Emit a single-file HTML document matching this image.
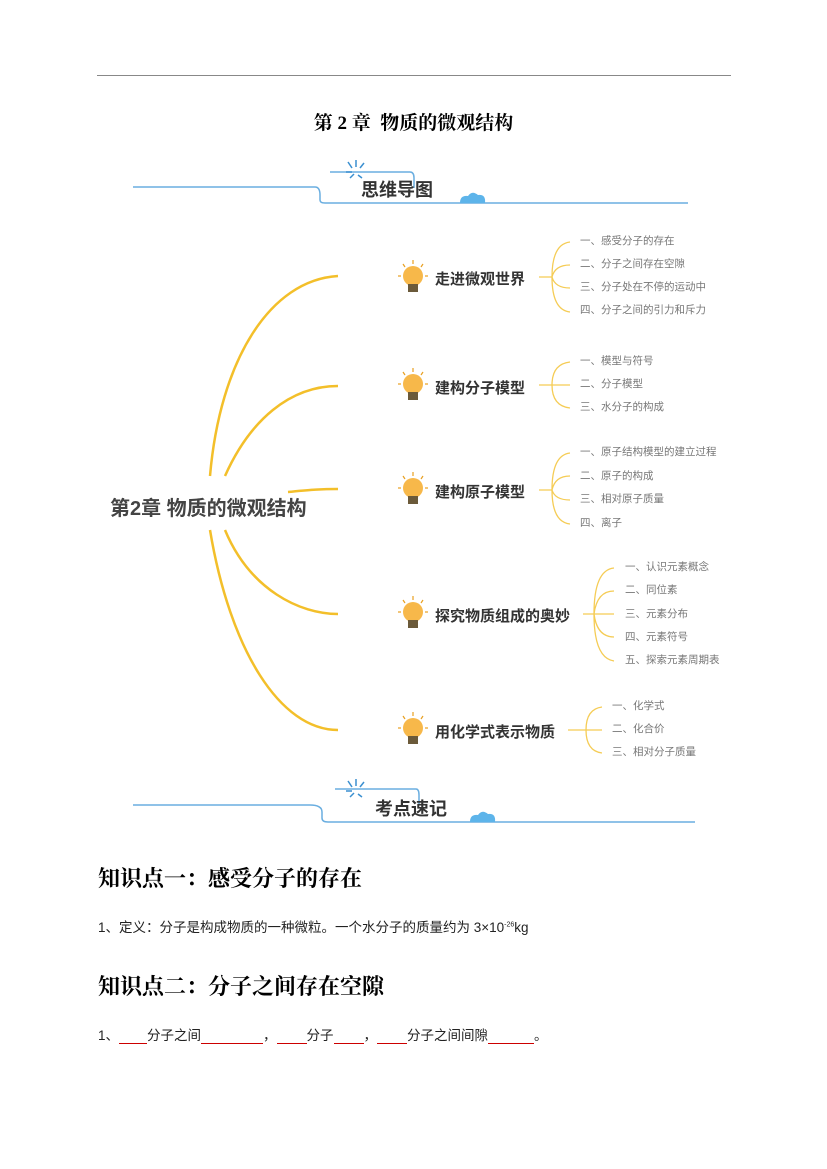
<!DOCTYPE html>
<html><head><meta charset="utf-8"><style>
body{margin:0;background:#fff;}
.p{position:relative;width:827px;height:1169px;overflow:hidden;font-family:"Liberation Sans","Noto Sans CJK SC",sans-serif;}
.a{position:absolute;white-space:nowrap;}
.h{font-family:"Liberation Serif","Noto Serif CJK SC",serif;font-weight:bold;font-size:22px;color:#000;}
.t{font-size:13.5px;color:#222;}
u{text-decoration:none;border-bottom:1px solid #c00;display:inline-block;}
.s{font-size:10.5px;color:#777;}
</style></head><body><div class="p">
<div class="a" style="left:97px;top:75px;width:634px;height:1px;background:#888"></div>
<div class="a" style="left:0;width:827px;top:108px;text-align:center;font-weight:bold;font-size:19px;font-family:'Liberation Serif','Noto Serif CJK SC',serif">第 2 章&nbsp; 物质的微观结构</div>
<svg class="a" style="left:0;top:0" width="827" height="860">
<g stroke="#6aaee0" fill="none" stroke-width="1.5">
<line x1="133" y1="187" x2="315" y2="187"/><path d="M315 187 Q320 187 320 195 L320 200 Q320 203 325 203 L688 203"/>
<path d="M330 172 L410 172 Q414 172 414 178 L414 188"/>
<line x1="133" y1="805" x2="310" y2="805"/><path d="M310 805 Q322 805 322 812 L322 818 Q322 822 328 822 L695 822"/>
<path d="M335 789 L416 789 Q419 789 419 795 L419 805"/>
</g>
<g stroke="#3a8fd0" stroke-width="1.5">
<line x1="348" y1="162" x2="352" y2="168"/><line x1="356" y1="160" x2="356" y2="167"/><line x1="364" y1="163" x2="360" y2="168"/><line x1="346" y1="172" x2="352" y2="172"/><line x1="350" y1="178" x2="354" y2="174"/><line x1="358" y1="175" x2="362" y2="178"/>
<line x1="348" y1="781" x2="352" y2="787"/><line x1="356" y1="779" x2="356" y2="786"/><line x1="364" y1="782" x2="360" y2="787"/><line x1="346" y1="791" x2="352" y2="791"/><line x1="350" y1="797" x2="354" y2="793"/><line x1="358" y1="794" x2="362" y2="797"/>
</g>
<path d="M460 203 Q460 195 468 196 Q472 190 478 195 Q486 194 485 203 Z" fill="#5db4ea"/>
<path d="M470 822 Q470 814 478 815 Q482 809 488 814 Q496 813 495 822 Z" fill="#5db4ea"/>
<g stroke="#f3bf2a" fill="none" stroke-width="2.5">
<path d="M210 476 C220 360 270 280 338 276"/>
<path d="M225 476 C250 420 290 386 338 386"/>
<path d="M288 492 C310 490 320 489 338 489"/>
<path d="M225 530 C250 590 300 614 338 614"/>
<path d="M210 530 C230 650 280 730 338 730"/>
</g>
<g stroke="#f5cc55" fill="none" stroke-width="1.3">
<path d="M539 277 L552 277 M570 242 Q552 244 552 277 Q552 310 570 312 M552 277 Q555 265 570 265 M552 277 Q555 288 570 288"/>
<path d="M539 385 L570 385 M570 362 Q552 364 552 385 Q552 406 570 408"/>
<path d="M539 490 L552 490 M570 453 Q552 455 552 490 Q552 522 570 524 M552 490 Q555 476 570 476 M552 490 Q555 500 570 500"/>
<path d="M583 614 L614 614 M614 568 Q594 570 594 614 Q594 658 614 661 M594 614 Q597 591 614 591 M594 614 Q597 637 614 637"/>
<path d="M568 730 L602 730 M602 707 Q586 709 586 730 Q586 751 602 753"/>
</g>
</svg>
<svg class="a" style="left:0;top:0" width="827" height="860">
<defs><g id="bulb"><g stroke="#e8a020" stroke-width="1.2"><line x1="0" y1="-16" x2="0" y2="-12"/><line x1="-10" y1="-12" x2="-8" y2="-9"/><line x1="10" y1="-12" x2="8" y2="-9"/><line x1="-15" y1="0" x2="-12" y2="0"/><line x1="15" y1="0" x2="12" y2="0"/></g><circle r="10" fill="#f7b84a"/><rect x="-5" y="8" width="10" height="8" fill="#6b5a3a"/></g></defs>
<use href="#bulb" x="413" y="276"/><use href="#bulb" x="413" y="384"/><use href="#bulb" x="413" y="488"/><use href="#bulb" x="413" y="612"/><use href="#bulb" x="413" y="728"/>
</svg>
<div class="a" style="left:361px;top:176px;font-size:18px;font-weight:bold;color:#333">思维导图</div>
<div class="a" style="left:375px;top:795px;font-size:18px;font-weight:bold;color:#333">考点速记</div>
<div class="a" style="left:110px;top:492px;font-size:20px;font-weight:bold;color:#444">第2章 物质的微观结构</div>
<div class="a" style="left:435px;top:268px;font-size:15px;font-weight:bold;color:#333">走进微观世界</div>
<div class="a" style="left:435px;top:377px;font-size:15px;font-weight:bold;color:#333">建构分子模型</div>
<div class="a" style="left:435px;top:481px;font-size:15px;font-weight:bold;color:#333">建构原子模型</div>
<div class="a" style="left:435px;top:605px;font-size:15px;font-weight:bold;color:#333">探究物质组成的奥妙</div>
<div class="a" style="left:435px;top:721px;font-size:15px;font-weight:bold;color:#333">用化学式表示物质</div>
<div class="a s" style="left:580px;top:230px;line-height:23px">一、感受分子的存在<br>二、分子之间存在空隙<br>三、分子处在不停的运动中<br>四、分子之间的引力和斥力</div>
<div class="a s" style="left:580px;top:350px;line-height:23px">一、模型与符号<br>二、分子模型<br>三、水分子的构成</div>
<div class="a s" style="left:580px;top:441px;line-height:23.5px">一、原子结构模型的建立过程<br>二、原子的构成<br>三、相对原子质量<br>四、离子</div>
<div class="a s" style="left:625px;top:556px;line-height:23.3px">一、认识元素概念<br>二、同位素<br>三、元素分布<br>四、元素符号<br>五、探索元素周期表</div>
<div class="a s" style="left:612px;top:695px;line-height:23px">一、化学式<br>二、化合价<br>三、相对分子质量</div>
<div class="a h" style="left:98px;top:862px">知识点一：感受分子的存在</div>
<div class="a t" style="left:98px;top:916px">1、定义：分子是构成物质的一种微粒。一个水分子的质量约为 3×10<sup style="font-size:7px">-26</sup>kg</div>
<div class="a h" style="left:98px;top:970px">知识点二：分子之间存在空隙</div>
<div class="a t" style="left:98px;top:1024px">1、<u style="width:28px">&nbsp;</u>分子之间<u style="width:62px">&nbsp;</u>，<u style="width:30px">&nbsp;</u>分子<u style="width:30px">&nbsp;</u>，<u style="width:30px">&nbsp;</u>分子之间间隙<u style="width:46px">&nbsp;</u>。</div>
</div></body></html>
